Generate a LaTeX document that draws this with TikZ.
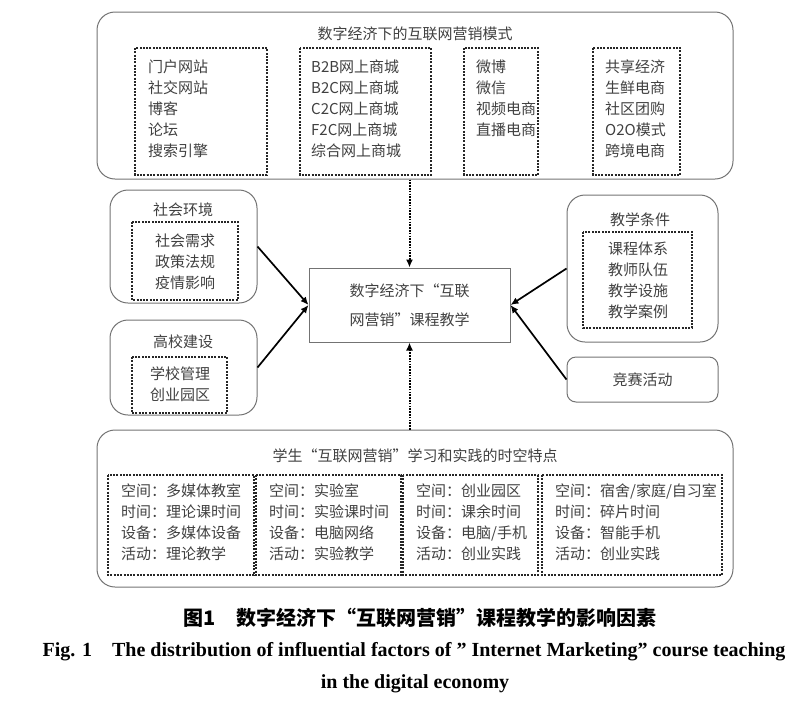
\documentclass[tikz,border=0pt]{standalone}
\usepackage{fontspec}
\setmainfont{Liberation Serif}
\newfontfamily\cjk{Noto Sans CJK SC}
\usetikzlibrary{arrows.meta}
\tikzset{
  outerbox/.style={draw=black!55, line width=1pt, rounded corners=18pt, inner sep=0pt},
  dashbox/.style={draw=black!85, line width=1.5pt, dash pattern=on 2pt off 1.3pt},
  cntext/.style={font=\cjk\fontsize{15}{21}\selectfont, text=black!75, inner sep=0pt},
  itemlist/.style={cntext, align=left, anchor=north west},
  midlist/.style={cntext, align=center, anchor=north},
  flowarrow/.style={line width=1.7pt, -{Latex[length=8pt,width=7pt]}},
  dotarrow/.style={flowarrow, line width=2pt, dash pattern=on 1.6pt off 1.2pt},
}
\begin{document}
\begin{tikzpicture}[x=1pt, y=-1pt]
    \useasboundingbox (0,0) rectangle (800,705);

    % marketing modes
    \node[outerbox, minimum width=636, minimum height=167] (modes) at (415,95.5) {};
    \node[cntext] (modestitle) at (415,34) {数字经济下的互联网营销模式};
    \draw[dashbox] (135,48) rectangle (267,175);
    \draw[dashbox] (300,48) rectangle (431,175);
    \draw[dashbox] (464,48) rectangle (538,175);
    \draw[dashbox] (593,48) rectangle (680,175);
    \node[itemlist] (webs) at (148,60) {门户网站\\社交网站\\博客\\论坛\\搜索引擎};
    \node[itemlist] (malls) at (311,60) {B2B网上商城\\B2C网上商城\\C2C网上商城\\F2C网上商城\\综合网上商城};
    \node[itemlist] (media) at (476,60) {微博\\微信\\视频电商\\直播电商};
    \node[itemlist] (newmodes) at (605,60) {共享经济\\生鲜电商\\社区团购\\O2O模式\\跨境电商};

    % social environment and campus
    \node[outerbox, minimum width=147, minimum height=113] (society) at (183.5,246.5) {};
    \node[cntext] (societytitle) at (183,210) {社会环境};
    \draw[dashbox] (132,222) rectangle (238,300);
    \node[midlist] (societyitems) at (185,234) {社会需求\\政策法规\\疫情影响};
    \node[outerbox, minimum width=147, minimum height=95] (campus) at (183.5,367.5) {};
    \node[cntext] (campustitle) at (183,342) {高校建设};
    \draw[dashbox] (132,357) rectangle (227,413);
    \node[midlist] (campusitems) at (180,367) {学校管理\\创业园区};

    % course teaching
    \node[draw=black!55, line width=1pt, minimum width=201, minimum height=74,
          cntext, align=center, font=\cjk\fontsize{15}{29}\selectfont] (course) at (409.5,305)
          {数字经济下“互联\\网营销”课程教学};

    % teaching conditions and contests
    \node[outerbox, minimum width=151, minimum height=147] (cond) at (642.5,268.5) {};
    \node[cntext] (condtitle) at (640,220) {教学条件};
    \draw[dashbox] (583,232) rectangle (692,328);
    \node[midlist] (conditems) at (638,242) {课程体系\\教师队伍\\教学设施\\教学案例};
    \node[outerbox, rounded corners=9pt, minimum width=151, minimum height=45,
          cntext] (contest) at (642.5,379.5) {竞赛活动};

    % learning and practice
    \node[outerbox, minimum width=636, minimum height=157] (study) at (415,508.5) {};
    \node[cntext] (studytitle) at (415,456) {学生“互联网营销”学习和实践的时空特点};
    \draw[dashbox] (108,475) rectangle (254,575);
    \draw[dashbox] (256,475) rectangle (401,575);
    \draw[dashbox] (403,475) rectangle (538,575);
    \draw[dashbox] (542,475) rectangle (722,575);
    \node[itemlist] (classroom) at (121,484) {空间：多媒体教室\\时间：理论课时间\\设备：多媒体设备\\活动：理论教学};
    \node[itemlist] (lab) at (269,484) {空间：实验室\\时间：实验课时间\\设备：电脑网络\\活动：实验教学};
    \node[itemlist] (park) at (416,484) {空间：创业园区\\时间：课余时间\\设备：电脑/手机\\活动：创业实践};
    \node[itemlist] (dorm) at (555,484) {空间：宿舍/家庭/自习室\\时间：碎片时间\\设备：智能手机\\活动：创业实践};

    % arrows
    \draw[dotarrow] (modes.south -| course.north) -- (course.north);
    \draw[dotarrow] (study.north -| course.south) -- (course.south);
    \draw[flowarrow] (society.east) -- (course.west);
    \draw[flowarrow] (campus.east) -- (course.west);
    \draw[flowarrow] (cond.west) -- (course.east);
    \draw[flowarrow] (contest.west) -- (course.east);

    % caption
    \node[font=\cjk\bfseries\fontsize{20}{24}\selectfont] (capcn) at (420,618)
        {图1\quad 数字经济下“互联网营销”课程教学的影响因素};
    \node[font=\bfseries\fontsize{20}{24}\selectfont] (capen) at (414,652)
        {Fig. 1\quad The distribution of influential factors of ” Internet Marketing” course teaching};
    \node[font=\bfseries\fontsize{20}{24}\selectfont] (capen2) at (415,684) {in the digital economy};
\end{tikzpicture}
\end{document}
